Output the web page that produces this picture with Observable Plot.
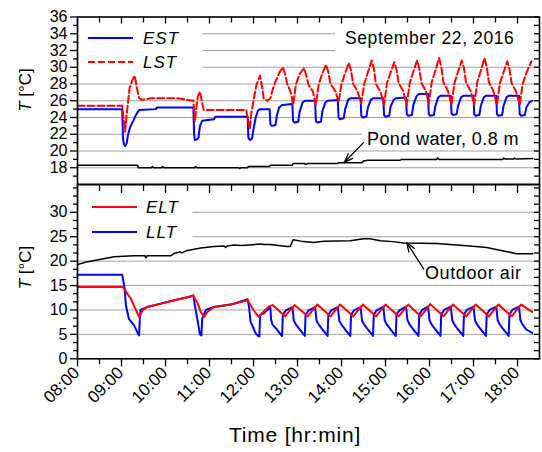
<!DOCTYPE html>
<html>
<head>
<meta charset="utf-8">
<script src="https://cdn.jsdelivr.net/npm/d3@7"></script>
<script src="https://cdn.jsdelivr.net/npm/@observablehq/plot@0.6"></script>
<style>
  html, body { margin: 0; padding: 0; background: #fff; }
  #chart { width: 542px; }
  #chart svg { display: block; }
</style>
</head>
<body>
<div id="chart"></div>
<script>
// ---------- ticks ----------
const hourTicks = ["08:00","09:00","10:00","11:00","12:00","13:00","14:00","15:00","16:00","17:00","18:00"];
const halfTicks = ["08:30","09:30","10:30","11:30","12:30","13:30","14:30","15:30","16:30","17:30"];
const topYLabels = [18,20,22,24,26,28,30,32,34,36];
const topYMinor = [17,19,21,23,25,27,29,31,33,35];
const topGrid = [18,20,22,24,26,28,30,32,34];
const botYLabels = [0,5,10,15,20,25,30];
const botYMinor = [1.67,3.33,6.67,8.33,11.67,13.33,16.67,18.33,21.67,23.33,26.67,28.33,31.67,33.33,35];
const botGrid = [5,10,15,20,25,30];

// ---------- series (time, °C) ----------
const EST = [["08:00",25.0],["09:01",25.0],["09:02",21.6],["09:03",20.9],["09:05",20.6],["09:07",20.9],["09:09",22.0],["09:12",22.9],["09:16",23.6],["09:19",24.2],["09:24",24.9],["09:47",25.0],["09:48",25.2],["10:38",25.2],["10:39",22.0],["10:40",21.3],["10:43",21.4],["10:45",21.6],["10:47",23.0],["10:50",23.6],["11:06",23.8],["11:08",24.1],["11:52",24.1],["11:53",21.6],["11:55",21.3],["11:58",21.5],["12:00",22.6],["12:03",24.0],["12:06",24.8],["12:09",25.0],["12:22",25.0],
["12:23",23.2],["12:25",23.0],["12:30",23.1],["12:32",24.3],["12:35",25.2],["12:39",25.5],["12:53",25.6],
["12:54",23.6],["12:56",23.4],["13:01",23.5],["13:03",24.7],["13:07",25.8],["13:10",26.0],["13:24",26.0],
["13:25",23.6],["13:27",23.4],["13:32",23.5],["13:34",24.8],["13:38",25.8],["13:41",26.0],["13:55",26.1],
["13:56",24.0],["13:58",23.8],["14:03",23.9],["14:05",25.0],["14:09",26.1],["14:12",26.3],["14:26",26.3],
["14:27",24.2],["14:29",24.0],["14:34",24.1],["14:36",25.2],["14:40",26.1],["14:43",26.3],["14:57",26.3],
["14:58",24.3],["15:00",24.1],["15:05",24.2],["15:07",25.3],["15:11",26.1],["15:14",26.3],["15:28",26.4],
["15:29",24.4],["15:31",24.2],["15:36",24.3],["15:38",25.5],["15:42",26.5],["15:45",26.8],["15:58",26.8],
["15:59",24.4],["16:01",24.2],["16:06",24.3],["16:08",25.4],["16:12",26.4],["16:15",26.6],["16:29",26.6],
["16:30",24.5],["16:32",24.3],["16:37",24.4],["16:39",25.4],["16:43",26.4],["16:46",26.6],["17:00",26.6],
["17:01",24.4],["17:03",24.2],["17:08",24.3],["17:10",25.4],["17:14",26.4],["17:17",26.6],["17:31",26.6],
["17:32",24.4],["17:34",24.2],["17:39",24.3],["17:41",25.4],["17:45",26.4],["17:48",26.6],["18:02",26.6],
["18:03",24.4],["18:05",24.2],["18:10",24.3],["18:12",25.2],["18:16",25.8],["18:20",26.0]];

const LST = [["08:00",25.4],["09:01",25.4],["09:03",23.8],["09:05",22.3],["09:07",24.3],["09:09",25.9],["09:11",27.5],["09:14",28.3],["09:18",29.0],["09:21",27.5],["09:24",26.3],["09:28",26.1],["09:40",26.3],["10:16",26.3],["10:30",26.1],["10:38",26.0],["10:40",23.5],["10:42",25.0],["10:44",26.5],["10:47",27.1],["10:49",26.2],["10:52",24.9],["11:50",24.9],["11:53",23.5],["11:55",22.6],["11:57",24.5],["12:00",26.0],["12:04",27.9],["12:09",29.0],["12:12",27.5],["12:14",26.2],["12:19",26.0],
["12:23",26.3],["12:26",27.3],["12:30",28.3],["12:35",29.3],["12:40",30.0],["12:43",29.2],["12:46",28.0],["12:51",27.0],
["12:54",25.5],["12:58",28.0],["13:03",29.2],["13:09",29.9],["13:12",29.0],["13:15",27.9],["13:21",27.1],
["13:25",25.5],["13:29",28.0],["13:34",29.3],["13:39",30.3],["13:42",29.4],["13:45",28.0],["13:52",27.1],
["13:56",25.8],["14:00",28.0],["14:05",29.3],["14:10",30.5],["14:13",29.6],["14:16",28.0],["14:22",27.1],
["14:27",25.7],["14:31",28.0],["14:36",29.4],["14:41",30.8],["14:44",29.9],["14:47",28.0],["14:53",27.1],
["14:58",25.5],["15:02",28.1],["15:07",29.4],["15:12",30.6],["15:15",29.7],["15:18",28.1],["15:24",27.2],
["15:29",25.5],["15:33",28.1],["15:38",29.5],["15:43",30.8],["15:46",29.9],["15:49",28.1],["15:55",27.2],
["15:59",25.6],["16:03",28.2],["16:08",29.6],["16:13",31.1],["16:16",30.1],["16:19",28.2],["16:25",27.2],
["16:30",25.5],["16:34",28.1],["16:39",29.5],["16:44",30.8],["16:47",29.9],["16:50",28.1],["16:56",27.2],
["17:01",25.5],["17:05",28.2],["17:10",29.6],["17:15",31.1],["17:18",30.1],["17:21",28.2],["17:27",27.2],
["17:32",25.5],["17:36",28.1],["17:41",29.4],["17:46",30.7],["17:49",29.8],["17:52",28.1],["17:58",27.1],
["18:03",25.5],["18:07",28.0],["18:12",29.3],["18:19",30.7]];

const POND = [["08:00",18.3],["09:22",18.3],["09:23",18.0],["09:41",18.0],["09:42",18.15],["09:44",18.0],["09:55",18.0],["09:56",18.15],["09:58",18.0],["10:40",18.0],["10:41",18.15],["10:43",18.0],["11:40",18.0],["11:41",17.9],["11:43",18.0],["11:52",18.0],["11:53",18.15],["12:22",18.15],["12:23",18.3],["12:53",18.3],["12:54",18.5],["13:10",18.5],["13:11",18.4],["13:14",18.5],["13:55",18.5],["13:56",18.6],["14:28",18.6],["14:30",18.8],["14:36",18.9],["15:20",18.9],["15:22",19.0],["16:10",19.0],["16:11",19.2],["16:13",19.0],["17:40",19.0],["17:41",19.15],["17:43",19.05],["17:55",19.05],["17:56",19.15],["17:58",19.05],["18:21",19.1]];

const AIR = [["08:00",19.3],["08:14",19.9],["08:32",20.4],["08:50",20.9],["09:17",21.1],["09:32",21.1],["09:33",20.7],["09:35",21.1],["10:07",21.1],["10:12",21.6],["10:20",21.9],["10:22",21.7],["10:30",22.2],["10:48",22.7],["11:06",23.0],["11:20",23.1],["11:22",22.8],["11:24",23.1],["11:33",23.3],["11:43",23.2],["12:10",23.5],["12:14",23.4],["12:23",23.4],["12:40",23.1],["12:46",23.0],["12:50",23.0],["12:54",24.4],["13:05",24.1],["13:22",23.8],["13:36",24.1],["14:12",24.2],["14:30",24.6],["14:39",24.6],["14:53",24.2],["15:10",24.0],["15:25",23.7],["16:10",23.6],["16:55",23.1],["17:18",22.8],["17:41",22.1],["17:59",21.5],["18:21",21.5]];

const ELT = [["08:00",14.7],["09:02",14.7],["09:08",13.3],["09:13",12.3],["09:17",10.9],["09:24",8.6],["09:29",10.0],["09:35",10.6],["09:54",11.3],["10:12",12.0],["10:30",12.6],["10:38",12.9],["10:44",11.3],["10:48",9.6],["10:53",8.6],["10:57",9.6],["11:06",10.6],["11:29",11.1],["11:52",12.0],["12:00",10.0],["12:07",8.6],["12:14",9.7],["12:21",10.7],["12:26",11.0],["12:43",8.7],["12:50",10.0],["12:56",11.0],["13:14",8.7],["13:21",10.0],["13:27",11.1],["13:45",8.7],["13:52",10.0],["13:58",11.1],["14:16",8.7],["14:23",10.0],["14:29",11.1],["14:47",8.7],["14:54",10.0],["15:00",11.1],["15:18",8.7],["15:25",10.0],["15:31",11.1],["15:48",8.7],["15:55",10.0],["16:01",11.2],["16:19",8.7],["16:26",10.0],["16:32",11.1],["16:50",8.7],["16:57",10.0],["17:03",11.1],["17:21",8.7],["17:28",10.0],["17:34",11.1],["17:52",8.7],["17:59",10.0],["18:05",11.1],["18:20",9.6]];

const LLT = [["08:00",17.2],["09:01",17.2],["09:04",14.7],["09:06",11.0],["09:10",8.2],["09:17",6.9],["09:23",5.0],["09:24",4.8],["09:25",8.2],["09:26",10.0],["09:35",10.6],["09:54",11.3],["10:12",12.0],["10:30",12.6],["10:38",13.0],["10:40",11.0],["10:44",7.6],["10:47",5.0],["10:49",4.8],["10:50",8.2],["10:55",10.0],["11:06",10.6],["11:29",11.1],["11:52",12.2],["11:54",10.5],["11:56",7.6],["12:03",5.2],["12:07",4.6],["12:08",4.6],["12:09",9.0],["12:14",9.3],["12:21",10.3],["12:23",10.5],
["12:24",8.0],["12:26",7.0],["12:32",6.0],["12:38",4.8],["12:39",4.7],["12:40",9.0],["12:44",9.9],["12:53",10.6],
["12:55",7.8],["12:58",7.0],["13:03",6.0],["13:09",4.9],["13:10",4.7],["13:11",9.0],["13:15",9.9],["13:24",10.6],
["13:26",7.8],["13:29",7.0],["13:34",6.0],["13:40",4.9],["13:41",4.7],["13:42",9.0],["13:46",9.9],["13:55",10.6],
["13:57",7.8],["14:00",7.0],["14:05",6.0],["14:11",4.9],["14:12",4.7],["14:13",9.0],["14:17",9.9],["14:26",10.6],
["14:28",7.8],["14:31",7.0],["14:36",6.0],["14:42",4.9],["14:43",4.7],["14:44",9.1],["14:48",9.9],["14:57",10.7],
["14:59",7.8],["15:02",7.0],["15:07",6.0],["15:13",4.9],["15:14",4.7],["15:15",9.1],["15:19",9.9],["15:28",10.7],
["15:30",7.9],["15:33",7.0],["15:38",6.0],["15:44",4.9],["15:45",4.7],["15:46",9.1],["15:50",10.0],["15:58",10.7],
["16:00",7.9],["16:03",7.0],["16:08",6.0],["16:14",4.9],["16:15",4.7],["16:16",9.1],["16:20",10.0],["16:29",10.7],
["16:31",7.9],["16:34",7.0],["16:39",6.0],["16:45",4.9],["16:46",4.7],["16:47",9.1],["16:51",10.0],["17:00",10.7],
["17:02",7.9],["17:05",7.0],["17:10",6.0],["17:16",4.9],["17:17",4.7],["17:18",9.1],["17:22",10.0],["17:31",10.7],
["17:33",7.9],["17:36",7.0],["17:41",6.0],["17:47",4.9],["17:48",4.7],["17:49",9.1],["17:53",10.0],["18:02",10.7],
["18:04",7.9],["18:07",7.0],["18:12",6.0],["18:20",5.3]];

// annotation arrows: [tail time, tail °C, head time, head °C]
const pondArrow = [["14:30",21.0,"14:04",18.65]];
const airArrow = [["15:52",18.4,"15:29",23.8]];

// ---------- helpers ----------
const hm = s => { const [h, m] = s.split(":").map(Number); return h + m / 60; };
const rows = a => a.map(([t, v]) => ({t: hm(t), v}));
const FONT = "'Liberation Sans', Arial, Helvetica, sans-serif";
const W = 542, ML = 77, MR = 3, FW = W - ML - MR;
const TOP_H = 184, TOP_MT = 16.5, TOP_FH = TOP_H - TOP_MT;
const BOT_H = 268, BOT_MB = 93.7, BOT_FH = BOT_H - BOT_MB;

function addText(g, x, y, str, size, opts = {}) {
  const t = g.append("text").attr("x", x).attr("y", y).attr("font-size", size).attr("fill", "black")
    .attr("text-anchor", opts.anchor || "start");
  if (opts.italic) t.attr("font-style", "italic");
  if (opts.ls) t.attr("letter-spacing", opts.ls);
  t.text(str);
  return t;
}
function yLabel(g, cx, cy) {
  const t = g.append("text").attr("transform", `translate(${cx},${cy}) rotate(-90)`)
    .attr("text-anchor", "middle").attr("dominant-baseline", "middle").attr("font-size", 17).attr("fill", "black");
  t.append("tspan").attr("font-style", "italic").text("T");
  t.append("tspan").text("\u00a0[°C]");
}
function box(g, x, y, w, h) {
  g.append("rect").attr("x", x).attr("y", y).attr("width", w).attr("height", h).attr("fill", "white");
}

const topDecor = () => {
  const g = d3.create("svg:g");
  box(g, 78.5, 20, 124, 53);
  box(g, 335, 24, 203, 31);
  box(g, 362, 127, 176, 19);
  g.append("line").attr("x1", 88).attr("x2", 133).attr("y1", 38).attr("y2", 38).attr("stroke", "#0000ff").attr("stroke-width", 2);
  addText(g, 143, 44, "EST", 17, {italic: true, ls: 1});
  g.append("line").attr("x1", 88).attr("x2", 133).attr("y1", 62).attr("y2", 62).attr("stroke", "#ff0000").attr("stroke-width", 2).attr("stroke-dasharray", "7,3");
  addText(g, 143, 68, "LST", 17, {italic: true, ls: 1});
  addText(g, 345, 43.5, "September 22, 2016", 17.5, {ls: 0.6});
  addText(g, 367, 144.5, "Pond water, 0.8 m", 18, {ls: 0.4});
  yLabel(g, 27, 90);
  return g.node();
};
const botDecor = () => {
  const g = d3.create("svg:g");
  box(g, 78.5, 8, 114, 50);
  g.append("line").attr("x1", 92).attr("x2", 137).attr("y1", 23).attr("y2", 23).attr("stroke", "#ff0000").attr("stroke-width", 2);
  addText(g, 146, 29, "ELT", 17, {italic: true, ls: 1});
  g.append("line").attr("x1", 92).attr("x2", 137).attr("y1", 48).attr("y2", 48).attr("stroke", "#0000ff").attr("stroke-width", 2);
  addText(g, 146, 54, "LLT", 17, {italic: true, ls: 1});
  addText(g, 425, 95, "Outdoor air", 18, {ls: 0.6});
  yLabel(g, 27, 83.5);
  addText(g, 295, 257.5, "Time [hr:min]", 21, {anchor: "middle", ls: 0.8});
  return g.node();
};

const style = {fontFamily: FONT, fontSize: "16px", overflow: "visible", background: "transparent", color: "black"};
const arrowOpts = {x1: d => hm(d[0]), y1: d => d[1], x2: d => hm(d[2]), y2: d => d[3], stroke: "black", strokeWidth: 1.3, headLength: 11, headAngle: 40};

const topPlot = Plot.plot({
  width: W, height: TOP_H, marginLeft: ML, marginRight: MR, marginTop: TOP_MT, marginBottom: 0,
  x: {type: "linear", domain: [8, 18.5], axis: null, label: null},
  y: {type: "linear", domain: [16, 36], label: null},
  style,
  marks: [
    Plot.ruleY(topGrid, {y: d => d, stroke: "#a0a0a0", strokeWidth: 1}),
    topDecor,
    Plot.line(rows(POND), {x: "t", y: "v", stroke: "black", strokeWidth: 1.5}),
    Plot.line(rows(EST), {x: "t", y: "v", stroke: "#0000ff", strokeWidth: 2}),
    Plot.line(rows(LST), {x: "t", y: "v", stroke: "#ff0000", strokeWidth: 2, strokeDasharray: "7,3"}),
    Plot.arrow(pondArrow, arrowOpts),
    Plot.axisY({anchor: "left", ticks: topYLabels, tickSize: 7, tickPadding: 3, fontSize: 16, tickFormat: d => String(d), label: null, strokeWidth: 1.3}),
    Plot.axisY({anchor: "left", ticks: topYMinor, tickSize: 4, tickFormat: () => "", label: null, strokeWidth: 1.3}),
    Plot.tickY(topYLabels.concat(topYMinor), {y: d => d, insetLeft: FW - 5, stroke: "black", strokeWidth: 1.3}),
    Plot.tickX(hourTicks.map(hm), {x: d => d, insetBottom: TOP_FH - 7, stroke: "black", strokeWidth: 1.3}),
    Plot.tickX(halfTicks.map(hm), {x: d => d, insetBottom: TOP_FH - 6, stroke: "black", strokeWidth: 1.3}),
    Plot.frame({stroke: "black", strokeWidth: 1.6})
  ]
});

const botPlot = Plot.plot({
  width: W, height: BOT_H, marginLeft: ML, marginRight: MR, marginTop: 0, marginBottom: BOT_MB,
  x: {type: "linear", domain: [8, 18.5], label: null},
  y: {type: "linear", domain: [0, 35.7], label: null},
  style,
  marks: [
    Plot.ruleY(botGrid, {y: d => d, stroke: "#a0a0a0", strokeWidth: 1}),
    botDecor,
    Plot.line(rows(AIR), {x: "t", y: "v", stroke: "black", strokeWidth: 1.5}),
    Plot.line(rows(LLT), {x: "t", y: "v", stroke: "#0000ff", strokeWidth: 2}),
    Plot.line(rows(ELT), {x: "t", y: "v", stroke: "#ff0000", strokeWidth: 2}),
    Plot.arrow(airArrow, arrowOpts),
    Plot.axisY({anchor: "left", ticks: botYLabels, tickSize: 7, tickPadding: 3, fontSize: 16, tickFormat: d => String(d), label: null, strokeWidth: 1.3}),
    Plot.axisY({anchor: "left", ticks: botYMinor, tickSize: 4, tickFormat: () => "", label: null, strokeWidth: 1.3}),
    Plot.tickY(botYLabels.concat(botYMinor), {y: d => d, insetLeft: FW - 5, stroke: "black", strokeWidth: 1.3}),
    Plot.tickX(hourTicks.map(hm), {x: d => d, insetBottom: BOT_FH - 9, stroke: "black", strokeWidth: 1.3}),
    Plot.tickX(halfTicks.map(hm), {x: d => d, insetBottom: BOT_FH - 7, stroke: "black", strokeWidth: 1.3}),
    Plot.axisX({anchor: "bottom", ticks: hourTicks.map(hm), tickSize: 8, tickFormat: () => "", label: null, strokeWidth: 1.3}),
    Plot.axisX({anchor: "bottom", ticks: halfTicks.map(hm), tickSize: 6, tickFormat: () => "", label: null, strokeWidth: 1.3}),
    Plot.text(hourTicks, {x: d => hm(d), frameAnchor: "bottom", text: d => d, rotate: -45, textAnchor: "end", dx: 3, dy: 15, fontSize: 17}),
    Plot.frame({stroke: "black", strokeWidth: 1.6})
  ]
});

const chart = document.getElementById("chart");
chart.appendChild(topPlot);
chart.appendChild(botPlot);
</script>
</body>
</html>
